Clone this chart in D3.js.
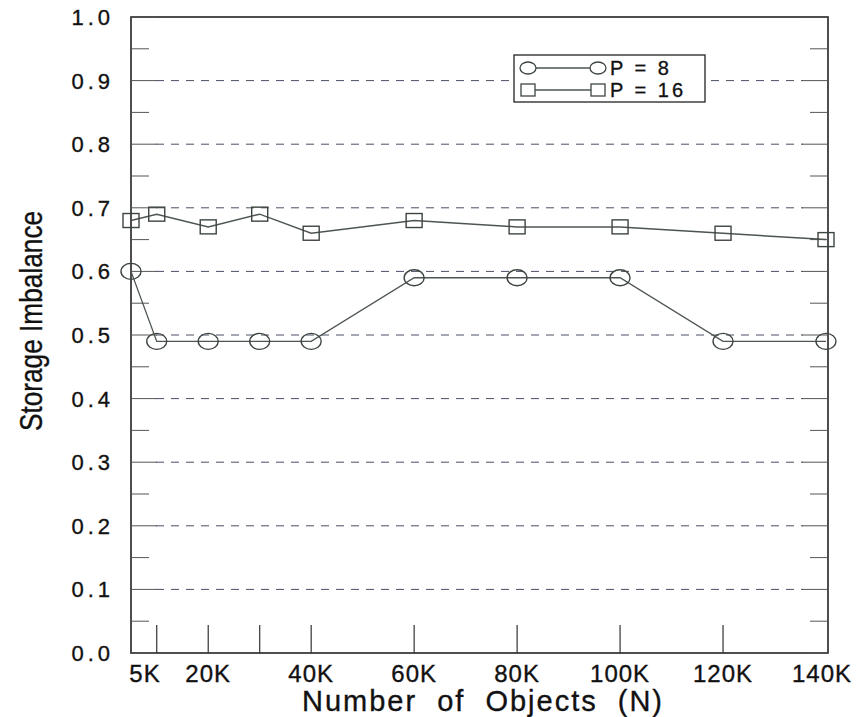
<!DOCTYPE html>
<html>
<head>
<meta charset="utf-8">
<script src="https://cdn.jsdelivr.net/npm/d3@7"></script>
<style>
  body { margin: 0; background: #fff; }
  text { font-family: "Liberation Sans", Arial, sans-serif; fill: #111; stroke: #111; stroke-width: 0.35px; }
</style>
</head>
<body>
<script>
var xValues = [5, 10, 20, 30, 40, 60, 80, 100, 120, 140]
var p8 = [0.60, 0.49, 0.49, 0.49, 0.49, 0.59, 0.59, 0.59, 0.49, 0.49]
var p16 = [0.68, 0.69, 0.67, 0.69, 0.66, 0.68, 0.67, 0.67, 0.66, 0.65]
var xTickLabels = [5, 20, 40, 60, 80, 100, 120, 140]
var xBottomTicks = [10, 20, 30, 40, 60, 80, 100, 120]
var yTicks = [0, 0.1, 0.2, 0.3, 0.4, 0.5, 0.6, 0.7, 0.8, 0.9, 1.0]
var seriesNames = ['P = 8', 'P = 16']

var options = {
  width: 864,
  height: 717,
  left: 131,
  right: 828,
  top: 17,
  bottom: 653
}

var svg = d3.select('body').append('svg')
  .attr('width', options.width)
  .attr('height', options.height)

var x = d3.scaleLinear().domain([5, 140]).range([131, 826])
var y = d3.scaleLinear().domain([0, 1]).range([options.bottom, options.top])

// frame
svg.append('rect')
  .attr('x', options.left).attr('y', options.top)
  .attr('width', options.right - options.left)
  .attr('height', options.bottom - options.top)
  .attr('fill', 'none').attr('stroke', '#222').attr('stroke-width', 1.6)

// dashed grid
svg.selectAll('line.grid').data(yTicks.slice(1, 10)).enter().append('line')
  .attr('class', 'grid')
  .attr('x1', options.left + 25).attr('x2', options.right - 25)
  .attr('y1', function(d) { return y(d) }).attr('y2', function(d) { return y(d) })
  .attr('stroke', '#4a4f66').attr('stroke-width', 1)
  .attr('stroke-dasharray', '8,7')

// left / right inner ticks (major + minor)
var minor = d3.range(0, 1.0001, 0.05)
svg.selectAll('line.lt').data(minor).enter().append('line')
  .attr('class', 'lt')
  .attr('x1', options.left).attr('x2', function(d, i) { return options.left + (i % 2 ? 18 : 26) })
  .attr('y1', function(d) { return y(d) }).attr('y2', function(d) { return y(d) })
  .attr('stroke', '#555').attr('stroke-width', 1)
svg.selectAll('line.rt').data(minor).enter().append('line')
  .attr('class', 'rt')
  .attr('x1', options.right).attr('x2', function(d, i) { return options.right - (i % 2 ? 18 : 26) })
  .attr('y1', function(d) { return y(d) }).attr('y2', function(d) { return y(d) })
  .attr('stroke', '#555').attr('stroke-width', 1)

// bottom ticks
svg.selectAll('line.bt').data(xBottomTicks).enter().append('line')
  .attr('class', 'bt')
  .attr('x1', function(d) { return x(d) }).attr('x2', function(d) { return x(d) })
  .attr('y1', options.bottom).attr('y2', options.bottom - 28)
  .attr('stroke', '#333').attr('stroke-width', 1.2)

// y tick labels
svg.selectAll('text.yl').data(yTicks).enter().append('text')
  .attr('class', 'yl')
  .attr('x', 114).attr('y', function(d) { return y(d) + 8 })
  .attr('text-anchor', 'end')
  .style('font-size', '22px')
  .style('letter-spacing', '4px')
  .text(function(d) { return d3.format('.1f')(d) })

// x tick labels
svg.selectAll('text.xl').data(xTickLabels).enter().append('text')
  .attr('class', 'xl')
  .attr('x', function(d) { return d === 5 ? x(d) + 14 : (d === 140 ? x(d) - 4 : x(d)) })
  .attr('y', 682)
  .attr('text-anchor', 'middle')
  .style('font-size', '24px')
  .style('letter-spacing', '1px')
  .text(function(d) { return d + 'K' })

// axis titles
svg.append('text')
  .attr('x', 483).attr('y', 711)
  .attr('text-anchor', 'middle')
  .style('font-size', '29px')
  .style('letter-spacing', '2px')
  .style('word-spacing', '10px')
  .text('Number of Objects (N)')

svg.append('text')
  .attr('transform', 'translate(42,321) rotate(-90) scale(0.82,1)')
  .attr('text-anchor', 'middle')
  .style('font-size', '32px')
  .text('Storage Imbalance')

// series
var line = d3.line()
  .x(function(d, i) { return x(xValues[i]) })
  .y(function(d) { return y(d) })

svg.append('path').datum(p16)
  .attr('d', line).attr('fill', 'none')
  .attr('stroke', '#4d5550').attr('stroke-width', 1.5)

svg.append('path').datum(p8)
  .attr('d', line).attr('fill', 'none')
  .attr('stroke', '#4d5550').attr('stroke-width', 1.3)

svg.selectAll('rect.sq').data(p16).enter().append('rect')
  .attr('class', 'sq')
  .attr('x', function(d, i) { return x(xValues[i]) - 8 })
  .attr('y', function(d) { return y(d) - 7 })
  .attr('width', 16).attr('height', 14)
  .attr('fill', 'none').attr('stroke', '#3d453f').attr('stroke-width', 1.4)

svg.selectAll('ellipse.ci').data(p8).enter().append('ellipse')
  .attr('class', 'ci')
  .attr('cx', function(d, i) { return x(xValues[i]) })
  .attr('cy', function(d) { return y(d) })
  .attr('rx', 10).attr('ry', 8)
  .attr('fill', 'none').attr('stroke', '#3d453f').attr('stroke-width', 1.4)

// legend
var lg = svg.append('g').attr('transform', 'translate(514,55)')
lg.append('rect').attr('width', 191).attr('height', 47)
  .attr('fill', '#fff').attr('stroke', '#222').attr('stroke-width', 1.3)
lg.selectAll('line.ll').data(seriesNames).enter().append('line')
  .attr('x1', 14).attr('x2', 84)
  .attr('y1', function(d, i) { return 13 + i * 22 }).attr('y2', function(d, i) { return 13 + i * 22 })
  .attr('stroke', '#4d5550').attr('stroke-width', 1.3)
lg.selectAll('ellipse').data([14, 84]).enter().append('ellipse')
  .attr('cx', function(d) { return d }).attr('cy', 13).attr('rx', 8).attr('ry', 6)
  .attr('fill', '#fff').attr('stroke', '#3d453f').attr('stroke-width', 1.3)
lg.selectAll('rect.lsq').data([14, 84]).enter().append('rect')
  .attr('class', 'lsq')
  .attr('x', function(d) { return d - 7 }).attr('y', 29).attr('width', 14).attr('height', 12)
  .attr('fill', '#fff').attr('stroke', '#3d453f').attr('stroke-width', 1.3)
lg.selectAll('text').data(seriesNames).enter().append('text')
  .attr('x', 96).attr('y', function(d, i) { return 20 + i * 22 })
  .style('font-size', '20px')
  .style('letter-spacing', '3px')
  .text(function(d) { return d })
</script>
</body>
</html>
